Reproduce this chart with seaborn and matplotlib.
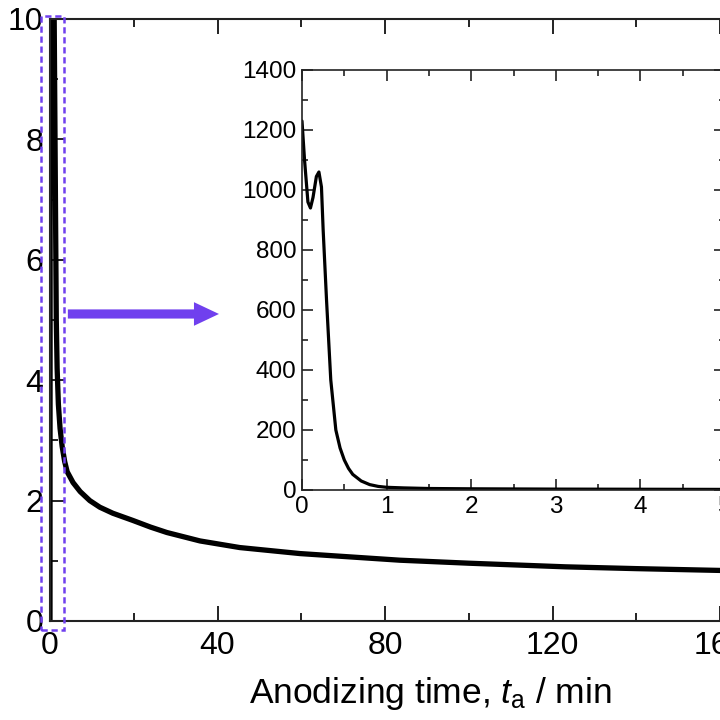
import numpy as np
import pandas as pd
import seaborn as sns
from matplotlib import pyplot as plt
from matplotlib.patches import Rectangle
from matplotlib.ticker import MultipleLocator

# main curve: current vs. anodizing time (min)
MAIN_T = [0.0, 0.05, 0.3, 0.8, 1.2, 1.5, 1.7, 2.0, 2.4, 2.9, 3.5, 4.1, 5.5, 7.2, 9.5, 11.9, 15.0,
          19.8, 24.0, 27.9, 35.8, 45.3, 59.7, 83.5, 100.0, 123.0, 140.0, 160.0, 180.0]
MAIN_V = [0.0, 13.0, 13.0, 12.0, 8.0, 5.0, 4.2, 3.6, 3.2, 2.9, 2.65, 2.48, 2.3, 2.15, 2.0, 1.89, 1.79,
          1.67, 1.56, 1.47, 1.33, 1.22, 1.12, 1.01, 0.96, 0.9, 0.87, 0.84, 0.81]

# inset: first 5 min
INSET_T = [0.0, 0.03, 0.07, 0.1, 0.13, 0.17, 0.2, 0.23, 0.25, 0.29, 0.34, 0.4, 0.45, 0.5,
           0.55, 0.6, 0.7, 0.8, 0.9, 1.0, 1.2, 1.5, 2.0, 3.0, 4.0, 5.0]
INSET_V = [1230, 1100, 960, 940, 975, 1045, 1060, 1010, 867, 633, 367, 200, 140, 100,
           72, 52, 30, 18, 12, 9, 7, 5, 4, 3, 2.5, 2]

MAIN_XTICKS = [0, 40, 80, 120, 160]
MAIN_YTICKS = [0, 2, 4, 6, 8, 10]
INSET_XTICKS = [0, 1, 2, 3, 4, 5]
INSET_YTICKS = [0, 200, 400, 600, 800, 1000, 1200, 1400]

PURPLE = "#7040EE"

sns.set_style("ticks")
plt.rcParams["font.family"] = ["Liberation Sans", "DejaVu Sans"]
plt.rcParams["mathtext.fontset"] = "custom"
plt.rcParams["mathtext.rm"] = "Liberation Sans"
plt.rcParams["mathtext.it"] = "Liberation Sans:italic"

fig = plt.figure(figsize=(7.2, 7.2), dpi=100)

# main axes (extends past the right edge, like the cropped original)
ax = fig.add_axes([50 / 720, 99 / 720, 754 / 720, 602 / 720])
main_df = pd.DataFrame({"t": MAIN_T, "v": MAIN_V})
sns.lineplot(data=main_df, x="t", y="v", ax=ax, color="black", lw=3.8,
             sort=False, estimator=None)
ax.set_xlim(0, 180)
ax.set_ylim(0, 10)
ax.set_xticks(MAIN_XTICKS)
ax.set_yticks(MAIN_YTICKS)
ax.xaxis.set_minor_locator(MultipleLocator(20))
ax.yaxis.set_minor_locator(MultipleLocator(1))
ax.tick_params(which="both", direction="in", top=True, right=True, width=1.4,
               labelsize=23, color="#222222", labelcolor="black")
ax.tick_params(which="major", length=11)
ax.tick_params(which="minor", length=6)
ax.tick_params(axis="x", pad=7)
ax.tick_params(axis="y", pad=5)
ax.set_xlabel("")
ax.set_ylabel("")
for s in ax.spines.values():
    s.set_linewidth(1.5)
    s.set_color("#222222")

# highlight box around the first minutes and the arrow to the inset
ax.add_patch(Rectangle((-2.1, -0.15), 5.4, 10.2, fill=False, edgecolor=PURPLE,
                       lw=1.8, ls=(0, (2.5, 1.5)), clip_on=False, zorder=5))
ax.annotate("", xy=(41, 5.1), xytext=(3.6, 5.1),
            arrowprops=dict(arrowstyle="simple,head_length=0.9,head_width=0.85,tail_width=0.33",
                            mutation_scale=20, color=PURPLE, lw=0))

# inset
ins = fig.add_axes([302 / 720, 230 / 720, 423 / 720, 420 / 720])
ins.set_facecolor("white")
inset_df = pd.DataFrame({"t": INSET_T, "v": INSET_V})
sns.lineplot(data=inset_df, x="t", y="v", ax=ins, color="black", lw=2.3,
             sort=False, estimator=None)
ins.set_xlim(0, 5)
ins.set_ylim(0, 1400)
ins.set_xticks(INSET_XTICKS)
ins.set_yticks(INSET_YTICKS)
ins.xaxis.set_minor_locator(MultipleLocator(0.5))
ins.yaxis.set_minor_locator(MultipleLocator(100))
ins.tick_params(which="both", direction="in", top=True, right=True, width=1.2,
                labelsize=17.5, color="#222222", labelcolor="black")
ins.tick_params(which="major", length=8)
ins.tick_params(which="minor", length=4.5)
ins.tick_params(axis="both", pad=4)
ins.set_xlabel("")
ins.set_ylabel("")
for s in ins.spines.values():
    s.set_linewidth(1.2)
    s.set_color("#222222")

fig.text(430 / 720, 1 - 694 / 720, r"Anodizing time, $t_\mathrm{a}$ / min",
         ha="center", va="center", fontsize=25.5, color="black")

fig.savefig("out.png", dpi=100)
